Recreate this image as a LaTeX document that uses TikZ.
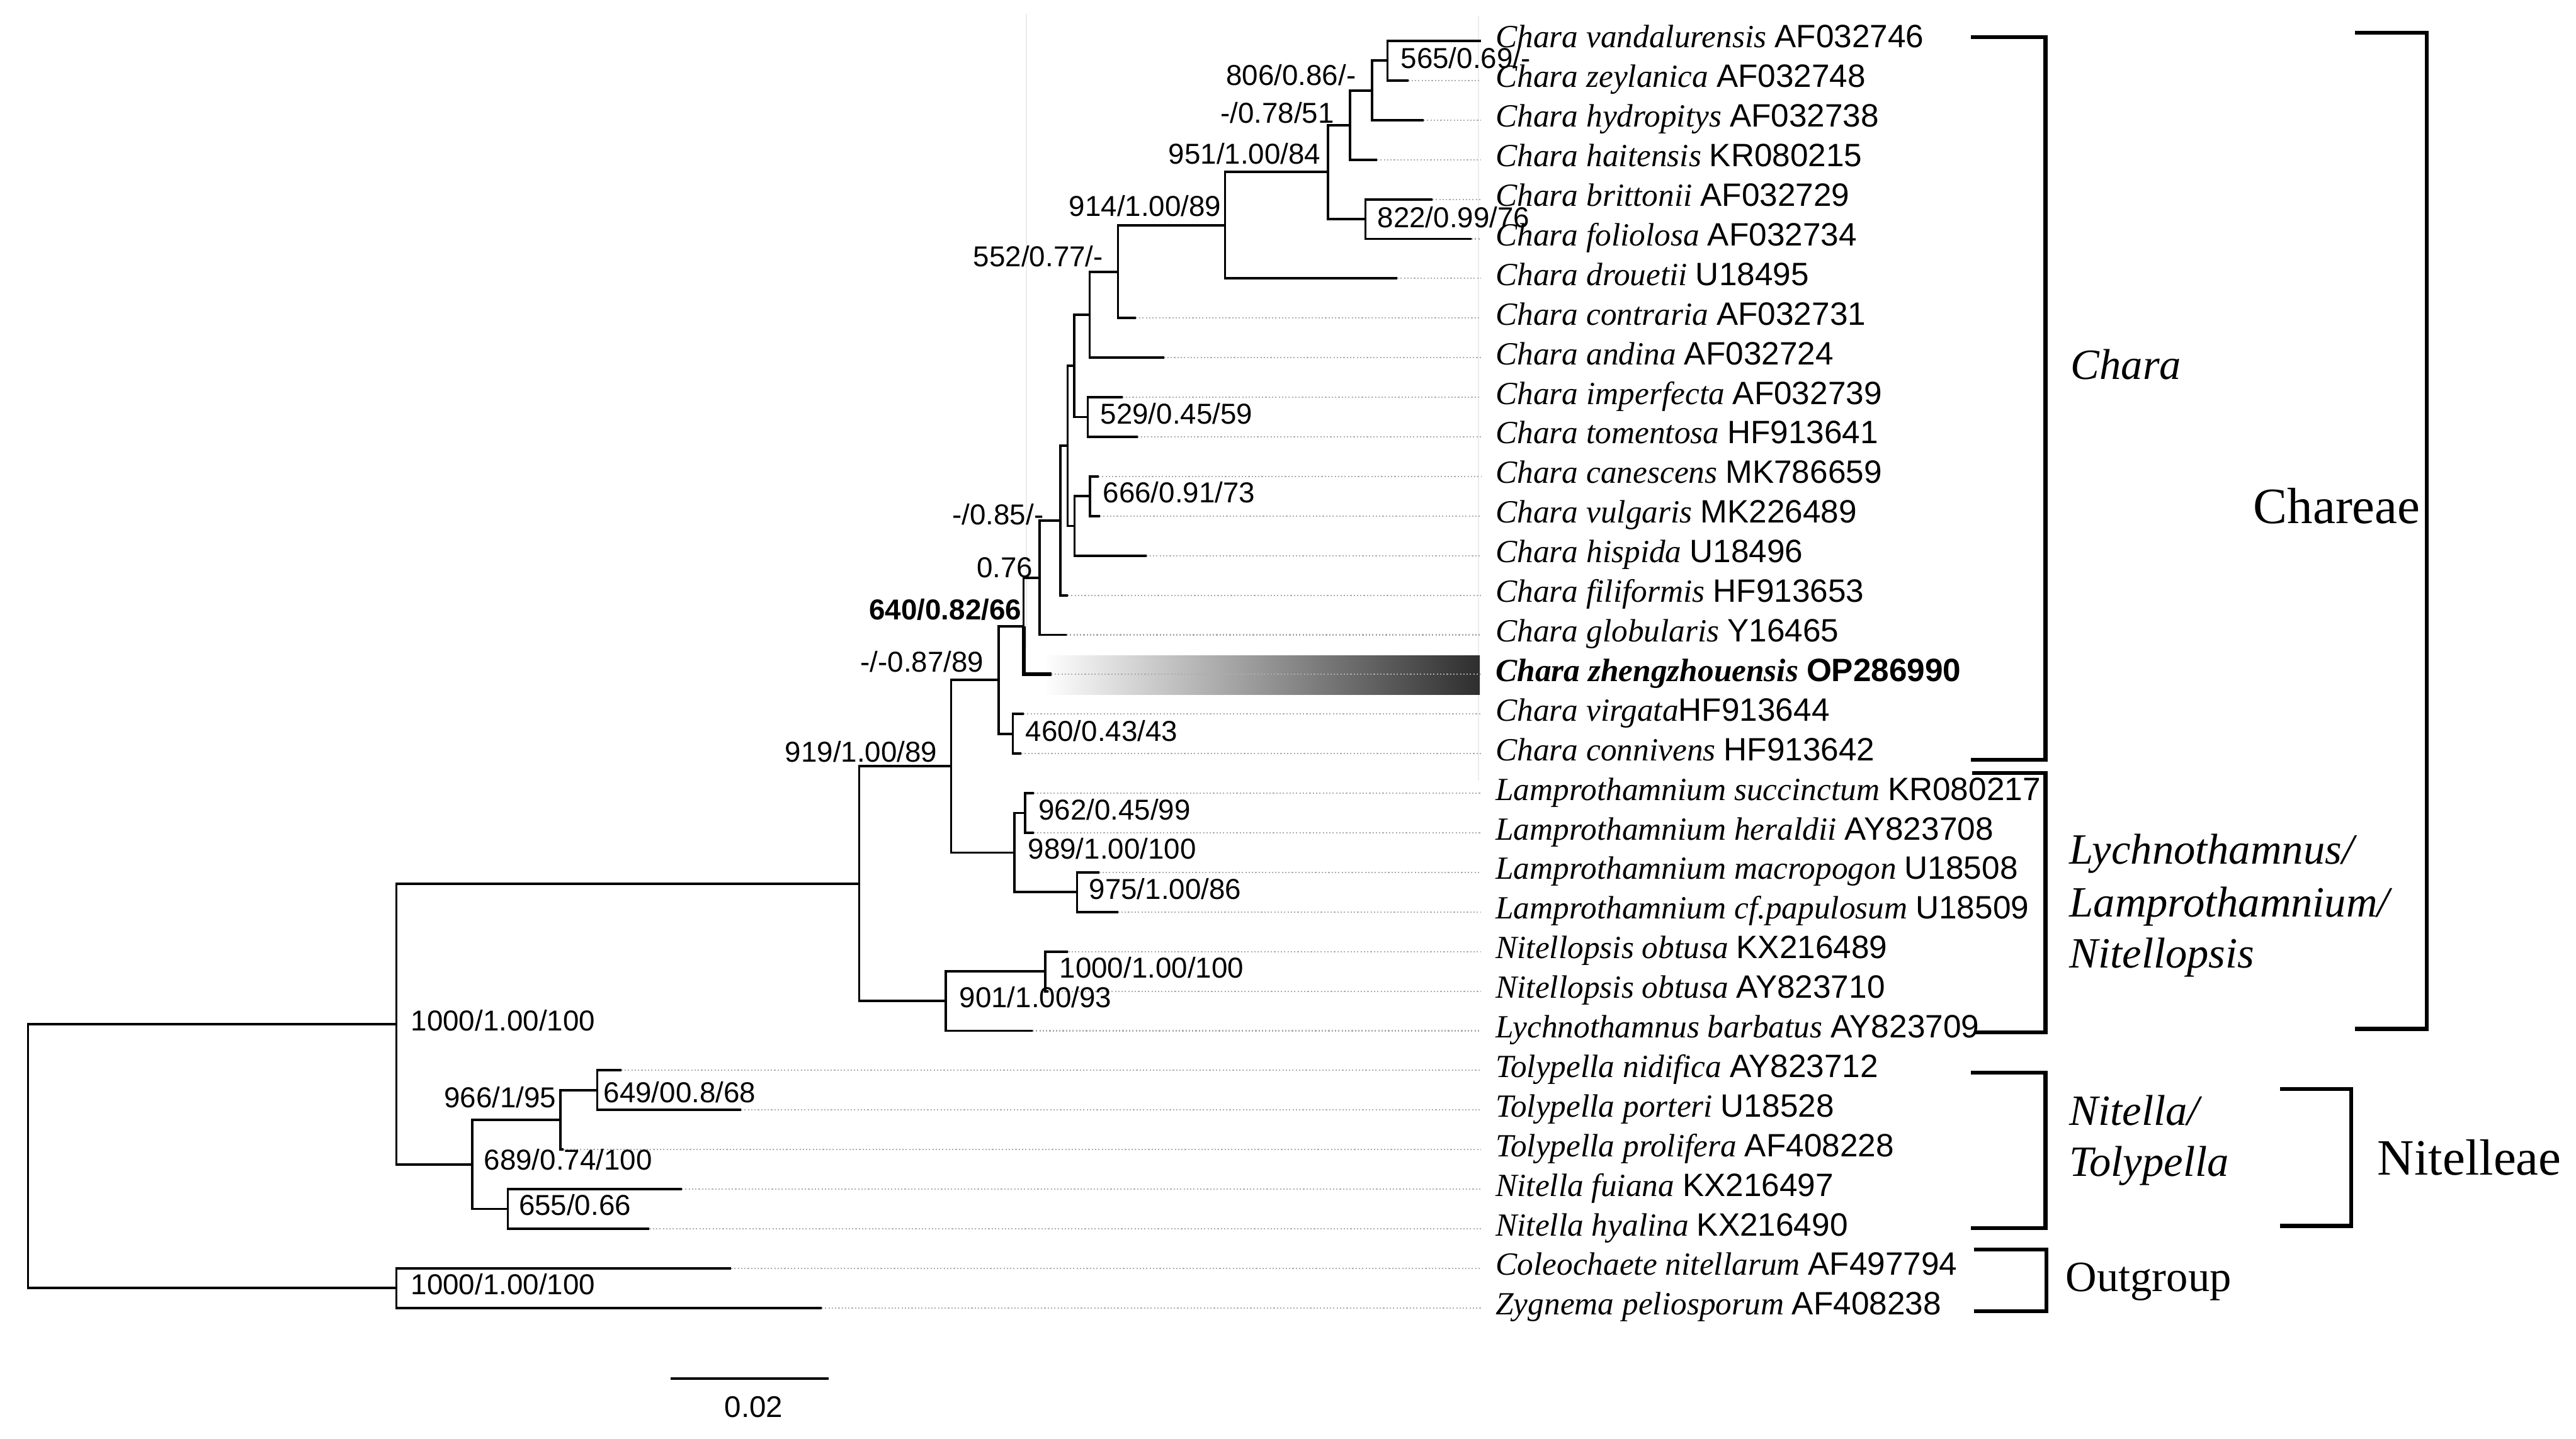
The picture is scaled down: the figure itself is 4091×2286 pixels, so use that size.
\documentclass[tikz,border=0pt]{standalone}
\usepackage{fontspec}
\setmainfont{Liberation Serif}
\setsansfont{Liberation Sans}

\tikzset{
  branch/.style={line width=1.1pt, line join=miter},
  guide/.style={gray!65, line width=0.6pt, dash pattern=on 0.6pt off 0.9pt},
  tip/.style={anchor=base west, inner xsep=0.226cm, inner ysep=0pt, font=\fontsize{14.6}{17}\selectfont},
  boot/.style={inner sep=0pt, font=\sffamily\fontsize{13}{15}\selectfont},
  bracket/.style={line width=1.8pt},
  clade/.style={anchor=base west, inner sep=0pt, font=\itshape\fontsize{19.5}{23}\selectfont},
  tribe/.style={anchor=base west, inner sep=0pt, font=\fontsize{23}{27}\selectfont},
}
\newcommand\taxon[2]{\textit{#1} \textsf{#2}}

\begin{document}
\begin{tikzpicture}[x=0.01cm,y=-0.01cm]
	\useasboundingbox (0,0) rectangle (4091,2286);
	% faint frame lines of the original
	\draw [gray!15, line width=0.6pt] (1630,22) -- (1630,1030);
	\draw [gray!15, line width=0.6pt] (2348,25) -- (2348,1240);
	% highlight of the new species
	\shade [left color=white, middle color=black!50, right color=black!82] (1657,1042) rectangle (2350,1104);

	% internal nodes
	\coordinate (n565) at (2203.5,96.45);
	\coordinate (n806) at (2179,143.6);
	\coordinate (n078) at (2144,198.7);
	\coordinate (n822) at (2168.5,348.05);
	\coordinate (n951) at (2109,273.4);
	\coordinate (n914) at (1945.5,357.9);
	\coordinate (n552) at (1775.5,431.6);
	\coordinate (nand) at (1730.5,499.9);
	\coordinate (n529) at (1727.5,662.55);
	\coordinate (nimp) at (1706,581.2);
	\coordinate (n666) at (1731,788.35);
	\coordinate (nhis) at (1706.5,835.5);
	\coordinate (ncan) at (1695.5,708.4);
	\coordinate (n085) at (1684,827);
	\coordinate (n076) at (1651,917.75);
	\coordinate (n640) at (1625.5,994.6);
	\coordinate (n460) at (1608.5,1165.75);
	\coordinate (n087) at (1586,1080.2);
	\coordinate (n962) at (1628,1291.55);
	\coordinate (n975) at (1710.5,1417.35);
	\coordinate (n989) at (1611,1354.45);
	\coordinate (n919) at (1510.5,1217.3);
	\coordinate (nnop) at (1660,1543.15);
	\coordinate (n901) at (1502,1590.3);
	\coordinate (ncha) at (1364.5,1403.8);
	\coordinate (n649) at (948.5,1731.85);
	\coordinate (n966) at (890,1779);
	\coordinate (n655) at (806.5,1920.55);
	\coordinate (n689) at (750,1849.8);
	\coordinate (ning) at (629.5,1626.8);
	\coordinate (nout) at (629.5,2046.35);
	\coordinate (root) at (44.5,1836.6);

	% ends of the solid tip branches
	\coordinate (s1) at (2352,65);
	\coordinate (s2) at (2236.5,127.9);
	\coordinate (s3) at (2261,190.8);
	\coordinate (s4) at (2187,253.7);
	\coordinate (s5) at (2275,316.6);
	\coordinate (s6) at (2337,379.5);
	\coordinate (s7) at (2219,442.4);
	\coordinate (s8) at (1803.7,505.3);
	\coordinate (s9) at (1848.6,568.2);
	\coordinate (s10) at (1782.6,631.1);
	\coordinate (s11) at (1806.5,694);
	\coordinate (s12) at (1745,756.9);
	\coordinate (s13) at (1747,819.8);
	\coordinate (s14) at (1820.5,882.7);
	\coordinate (s15) at (1696,945.6);
	\coordinate (s16) at (1694,1008.5);
	\coordinate (s17) at (1669.7,1071.4);
	\coordinate (s18) at (1626,1134.3);
	\coordinate (s19) at (1622,1197.2);
	\coordinate (s20) at (1641.6,1260.1);
	\coordinate (s21) at (1641.6,1323);
	\coordinate (s22) at (1745.5,1385.9);
	\coordinate (s23) at (1775.6,1448.8);
	\coordinate (s24) at (1696.4,1511.7);
	\coordinate (s25) at (1665,1574.6);
	\coordinate (s26) at (1640,1637.5);
	\coordinate (s27) at (986.8,1700.4);
	\coordinate (s28) at (1177,1763.3);
	\coordinate (s29) at (895,1826.2);
	\coordinate (s30) at (1083,1889.1);
	\coordinate (s31) at (1031.4,1952);
	\coordinate (s32) at (1161,2014.9);
	\coordinate (s33) at (1305,2077.8);

	% taxa
	\node [tip] (t1) at (2352,76) {\taxon{Chara vandalurensis}{AF032746}};
	\node [tip] (t2) at (2352,138.9) {\taxon{Chara zeylanica}{AF032748}};
	\node [tip] (t3) at (2352,201.8) {\taxon{Chara hydropitys}{AF032738}};
	\node [tip] (t4) at (2352,264.7) {\taxon{Chara haitensis}{KR080215}};
	\node [tip] (t5) at (2352,327.6) {\taxon{Chara brittonii}{AF032729}};
	\node [tip] (t6) at (2352,390.5) {\taxon{Chara foliolosa}{AF032734}};
	\node [tip] (t7) at (2352,453.4) {\taxon{Chara drouetii}{U18495}};
	\node [tip] (t8) at (2352,516.3) {\taxon{Chara contraria}{AF032731}};
	\node [tip] (t9) at (2352,579.2) {\taxon{Chara andina}{AF032724}};
	\node [tip] (t10) at (2352,642.1) {\taxon{Chara imperfecta}{AF032739}};
	\node [tip] (t11) at (2352,705) {\taxon{Chara tomentosa}{HF913641}};
	\node [tip] (t12) at (2352,767.9) {\taxon{Chara canescens}{MK786659}};
	\node [tip] (t13) at (2352,830.8) {\taxon{Chara vulgaris}{MK226489}};
	\node [tip] (t14) at (2352,893.7) {\taxon{Chara hispida}{U18496}};
	\node [tip] (t15) at (2352,956.6) {\taxon{Chara filiformis}{HF913653}};
	\node [tip] (t16) at (2352,1019.5) {\taxon{Chara globularis}{Y16465}};
	\node [tip] (t17) at (2352,1082.4) {\bfseries\taxon{Chara zhengzhouensis}{OP286990}};
	\node [tip] (t18) at (2352,1145.3) {\textit{Chara virgata}\textsf{HF913644}};
	\node [tip] (t19) at (2352,1208.2) {\taxon{Chara connivens}{HF913642}};
	\node [tip] (t20) at (2352,1271.1) {\taxon{Lamprothamnium succinctum}{KR080217}};
	\node [tip] (t21) at (2352,1334) {\taxon{Lamprothamnium heraldii}{AY823708}};
	\node [tip] (t22) at (2352,1396.9) {\taxon{Lamprothamnium macropogon}{U18508}};
	\node [tip] (t23) at (2352,1459.8) {\taxon{Lamprothamnium cf.papulosum}{U18509}};
	\node [tip] (t24) at (2352,1522.7) {\taxon{Nitellopsis obtusa}{KX216489}};
	\node [tip] (t25) at (2352,1585.6) {\taxon{Nitellopsis obtusa}{AY823710}};
	\node [tip] (t26) at (2352,1648.5) {\taxon{Lychnothamnus barbatus}{AY823709}};
	\node [tip] (t27) at (2352,1711.4) {\taxon{Tolypella nidifica}{AY823712}};
	\node [tip] (t28) at (2352,1774.3) {\taxon{Tolypella porteri}{U18528}};
	\node [tip] (t29) at (2352,1837.2) {\taxon{Tolypella prolifera}{AF408228}};
	\node [tip] (t30) at (2352,1900.1) {\taxon{Nitella fuiana}{KX216497}};
	\node [tip] (t31) at (2352,1963) {\taxon{Nitella hyalina}{KX216490}};
	\node [tip] (t32) at (2352,2025.9) {\taxon{Coleochaete nitellarum}{AF497794}};
	\node [tip] (t33) at (2352,2088.8) {\taxon{Zygnema peliosporum}{AF408238}};

	% dotted guides to the names
	\draw [guide] (s2) -- (s2 -| t2.west) (s3) -- (s3 -| t3.west)
		(s4) -- (s4 -| t4.west) (s5) -- (s5 -| t5.west)
		(s6) -- (s6 -| t6.west) (s7) -- (s7 -| t7.west)
		(s8) -- (s8 -| t8.west) (s9) -- (s9 -| t9.west)
		(s10) -- (s10 -| t10.west) (s11) -- (s11 -| t11.west)
		(s12) -- (s12 -| t12.west) (s13) -- (s13 -| t13.west)
		(s14) -- (s14 -| t14.west) (s15) -- (s15 -| t15.west)
		(s16) -- (s16 -| t16.west) (s17) -- (s17 -| t17.west)
		(s18) -- (s18 -| t18.west) (s19) -- (s19 -| t19.west)
		(s20) -- (s20 -| t20.west) (s21) -- (s21 -| t21.west)
		(s22) -- (s22 -| t22.west) (s23) -- (s23 -| t23.west)
		(s24) -- (s24 -| t24.west) (s25) -- (s25 -| t25.west)
		(s26) -- (s26 -| t26.west) (s27) -- (s27 -| t27.west)
		(s28) -- (s28 -| t28.west) (s29) -- (s29 -| t29.west)
		(s30) -- (s30 -| t30.west) (s31) -- (s31 -| t31.west)
		(s32) -- (s32 -| t32.west) (s33) -- (s33 -| t33.west);

	% branches
	\draw [branch] (n565) |- (s1) (n565) |- (s2);
	\draw [branch] (n806) |- (n565) (n806) |- (s3);
	\draw [branch] (n078) |- (n806) (n078) |- (s4);
	\draw [branch] (n822) |- (s5) (n822) |- (s6);
	\draw [branch] (n951) |- (n078) (n951) |- (n822);
	\draw [branch] (n914) |- (n951) (n914) |- (s7);
	\draw [branch] (n552) |- (n914) (n552) |- (s8);
	\draw [branch] (nand) |- (n552) (nand) |- (s9);
	\draw [branch] (n529) |- (s10) (n529) |- (s11);
	\draw [branch] (nimp) |- (nand) (nimp) |- (n529);
	\draw [branch] (n666) |- (s12) (n666) |- (s13);
	\draw [branch] (nhis) |- (n666) (nhis) |- (s14);
	\draw [branch] (ncan) |- (nimp) (ncan) |- (nhis);
	\draw [branch] (n085) |- (ncan) (n085) |- (s15);
	\draw [branch] (n076) |- (n085) (n076) |- (s16);
	\draw [branch] (n640) |- (n076);
	\draw [branch, line width=1.7pt] (n640) |- (s17);
	\draw [branch] (n460) |- (s18) (n460) |- (s19);
	\draw [branch] (n087) |- (n640) (n087) |- (n460);
	\draw [branch] (n962) |- (s20) (n962) |- (s21);
	\draw [branch] (n975) |- (s22) (n975) |- (s23);
	\draw [branch] (n989) |- (n962) (n989) |- (n975);
	\draw [branch] (n919) |- (n087) (n919) |- (n989);
	\draw [branch] (nnop) |- (s24) (nnop) |- (s25);
	\draw [branch] (n901) |- (nnop) (n901) |- (s26);
	\draw [branch] (ncha) |- (n919) (ncha) |- (n901);
	\draw [branch] (n649) |- (s27) (n649) |- (s28);
	\draw [branch] (n966) |- (n649) (n966) |- (s29);
	\draw [branch] (n655) |- (s30) (n655) |- (s31);
	\draw [branch] (n689) |- (n966) (n689) |- (n655);
	\draw [branch] (ning) |- (ncha) (ning) |- (n689);
	\draw [branch] (nout) |- (s32) (nout) |- (s33);
	\draw [branch] (root) |- (ning) (root) |- (nout);

	% support values
	\node [boot, anchor=base west] (b565) at (2224,109) {565/0.69/-};
	\node [boot, anchor=base east] (b806) at (2154,136) {806/0.86/-};
	\node [boot, anchor=base east] (b078) at (2119.5,196) {-/0.78/51};
	\node [boot, anchor=base east] (b951) at (2098,260.6) {951/1.00/84};
	\node [boot, anchor=base west] (b822) at (2187,362) {822/0.99/76};
	\node [boot, anchor=base east] (b914) at (1940,343.5) {914/1.00/89};
	\node [boot, anchor=base east] (b552) at (1752.5,424) {552/0.77/-};
	\node [boot, anchor=base west] (b529) at (1747,674) {529/0.45/59};
	\node [boot, anchor=base west] (b666) at (1751,798.4) {666/0.91/73};
	\node [boot, anchor=base east] (b085) at (1658,833.6) {-/0.85/-};
	\node [boot, anchor=base east] (b076) at (1641,917.8) {0.76};
	\node [boot, anchor=base east] (b640) at (1622.7,985) {\bfseries 640/0.82/66};
	\node [boot, anchor=base east] (b087) at (1563,1067.8) {-/-0.87/89};
	\node [boot, anchor=base west] (b460) at (1628,1177.6) {460/0.43/43};
	\node [boot, anchor=base east] (b919) at (1489,1210.8) {919/1.00/89};
	\node [boot, anchor=base west] (b962) at (1648.6,1302) {962/0.45/99};
	\node [boot, anchor=base west] (b989) at (1632,1364.7) {989/1.00/100};
	\node [boot, anchor=base west] (b975) at (1729,1428) {975/1.00/86};
	\node [boot, anchor=base west] (bnop) at (1682,1553) {1000/1.00/100};
	\node [boot, anchor=base west] (b901) at (1523,1600) {901/1.00/93};
	\node [boot, anchor=base west] (bing) at (652,1637.4) {1000/1.00/100};
	\node [boot, anchor=base east] (b966) at (884,1759.7) {966/1/95};
	\node [boot, anchor=base west] (b649) at (958,1751) {649/00.8/68};
	\node [boot, anchor=base west] (b689) at (768,1858.4) {689/0.74/100};
	\node [boot, anchor=base west] (b655) at (823.3,1930) {655/0.66};
	\node [boot, anchor=base west] (bout) at (652,2056.5) {1000/1.00/100};

	% clade brackets
	\draw [bracket] (3130,59) -| (3248.5,1207) -- (3130,1207);
	\draw [bracket] (3132,1228) -| (3248.5,1640) -- (3135,1640);
	\draw [bracket] (3130,1704) -| (3248.5,1951) -- (3130,1951);
	\draw [bracket] (3135,1985) -| (3250,2083) -- (3135,2083);
	\draw [bracket] (3740,52) -| (3854,1634.5) -- (3740,1634.5);
	\draw [bracket] (3621,1730) -| (3734,1947.4) -- (3621,1947.4);

	\node [clade] (chara) at (3288,603) {Chara};
	\node [clade] (lych1) at (3286,1372) {Lychnothamnus/};
	\node [clade] (lych2) at (3286,1456) {Lamprothamnium/};
	\node [clade] (lych3) at (3286,1537) {Nitellopsis};
	\node [clade] (nit1) at (3286,1787) {Nitella/};
	\node [clade] (nit2) at (3286,1868) {Tolypella};
	\node [clade, font=\fontsize{19.5}{23}\selectfont] (outg) at (3280,2051) {Outgroup};
	\node [tribe] (chareae) at (3578,832) {Chareae};
	\node [tribe] (nitelleae) at (3775,1866) {Nitelleae};

	% scale bar
	\coordinate (sbl) at (1065,2190);
	\coordinate (sbr) at (1316,2190);
	\draw [line width=1.4pt] (sbl) -- (sbr);
	\node [boot, anchor=base, font=\sffamily\fontsize{13.5}{16}\selectfont] (sblab) at (1197,2251) {0.02};
\end{tikzpicture}
\end{document}
